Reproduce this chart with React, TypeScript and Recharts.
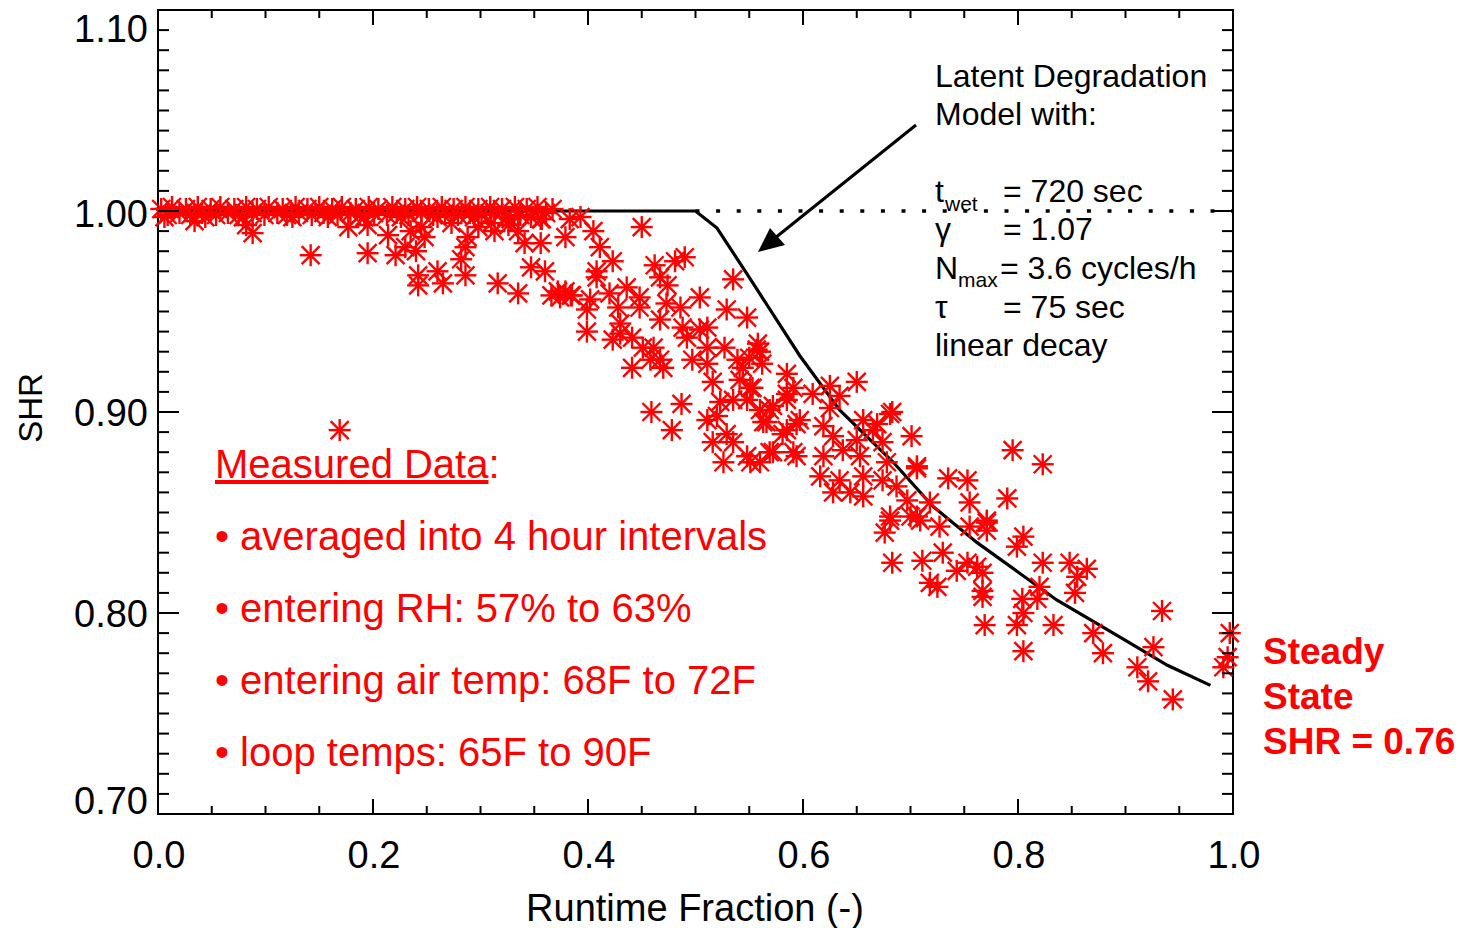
import { ComposedChart, Scatter, Line, XAxis, YAxis, ReferenceLine, ReferenceArea } from 'recharts'

const W = 1469
const H = 928
const PLOT = { left: 158, top: 10, right: 1233, bottom: 814 }
const FONT = '"Liberation Sans", Arial, Helvetica, sans-serif'
const RED = '#ff0000'

const X_TICKS = [0, 0.05, 0.1, 0.15, 0.2, 0.25, 0.3, 0.35, 0.4, 0.45, 0.5, 0.55, 0.6, 0.65, 0.7, 0.75, 0.8, 0.85, 0.9, 0.95, 1.0]
const Y_TICKS = Array.from({ length: 41 }, (_, i) => +(0.7 + i * 0.01).toFixed(2))
const Y_LABELS: Record<string, string> = { '1.1': '1.10', '1': '1.00', '0.9': '0.90', '0.8': '0.80', '0.7': '0.70' }
// IDL put the end labels a bit inside the box
const Y_LABEL_SHIFT: Record<string, number> = { '1.1': 20, '1': 4, '0.9': 2, '0.8': 2, '0.7': -12 }

// latent degradation model curve
const model: [number, number][] = [
  [0, 1.0], [0.5, 1.0], [0.52, 0.9915], [0.55, 0.967], [0.597, 0.928], [0.634, 0.901],
  [0.684, 0.875], [0.721, 0.853], [0.762, 0.835], [0.836, 0.8065], [0.898, 0.787],
  [0.939, 0.774], [0.979, 0.764],
]

// measured points sitting on SHR = 1.00
const flatRow: [number, number][] = [
  [0.003, 1.001], [0.009, 0.998], [0.013, 1.002], [0.02, 0.999], [0.026, 1.001], [0.03, 0.998],
  [0.037, 1.002], [0.041, 0.999], [0.049, 1.001], [0.054, 0.998], [0.058, 1.002], [0.065, 0.999],
  [0.071, 1.001], [0.075, 0.998], [0.082, 1.002], [0.088, 0.999], [0.092, 1.001], [0.099, 0.998],
  [0.103, 1.002], [0.111, 0.999], [0.116, 1.001], [0.12, 0.998], [0.128, 1.002], [0.131, 0.999],
  [0.139, 1.001], [0.143, 0.998], [0.15, 1.002], [0.154, 0.999], [0.162, 1.001], [0.167, 0.998],
  [0.171, 1.002], [0.179, 0.999], [0.184, 1.001], [0.188, 0.998], [0.196, 1.002], [0.201, 0.999],
  [0.205, 1.001], [0.213, 0.998], [0.218, 1.002], [0.222, 0.999], [0.23, 1.001], [0.233, 0.998],
  [0.241, 1.002], [0.245, 0.999], [0.252, 1.001], [0.256, 0.998], [0.264, 1.002], [0.267, 0.999],
  [0.275, 1.001], [0.279, 0.998], [0.286, 1.002], [0.29, 0.999], [0.298, 1.001], [0.301, 0.998],
  [0.309, 1.002], [0.313, 0.999], [0.32, 1.001], [0.324, 0.997], [0.332, 1.002], [0.337, 0.998],
  [0.343, 1.001], [0.347, 0.997], [0.353, 1.002], [0.361, 0.999], [0.367, 1.001],
  [0.006, 0.997], [0.044, 0.997], [0.079, 0.997], [0.125, 0.997], [0.158, 0.997], [0.192, 0.997],
  [0.226, 0.997], [0.26, 0.997], [0.294, 0.997], [0.328, 0.996], [0.357, 0.996],
]

// scatter below 1.00, runtime fraction < 0.4
const upperScatter: [number, number][] = [
  [0.034, 0.995], [0.082, 0.993], [0.088, 0.989], [0.142, 0.978], [0.169, 0.891], [0.177, 0.992],
  [0.195, 0.993], [0.195, 0.979], [0.214, 0.988], [0.221, 0.978], [0.23, 0.982], [0.235, 0.99],
  [0.24, 0.98], [0.242, 0.968], [0.242, 0.963], [0.245, 0.992], [0.248, 0.987], [0.26, 0.97],
  [0.265, 0.964], [0.273, 0.994], [0.282, 0.976], [0.286, 0.982], [0.286, 0.968], [0.288, 0.987],
  [0.298, 0.992], [0.31, 0.994], [0.313, 0.99], [0.316, 0.964], [0.326, 0.993], [0.335, 0.99],
  [0.335, 0.959], [0.341, 0.984], [0.347, 0.972], [0.356, 0.984], [0.356, 0.996], [0.36, 0.97],
  [0.366, 0.958], [0.372, 0.96], [0.374, 0.957], [0.379, 0.987], [0.379, 0.96], [0.383, 0.996],
  [0.384, 0.958], [0.393, 0.997], [0.385, 0.958],
]

// scatter 0.4 - 0.6
const middleScatter: [number, number][] = [
  [0.405, 0.99], [0.411, 0.982], [0.423, 0.975], [0.408, 0.97], [0.408, 0.967], [0.45, 0.992],
  [0.462, 0.973], [0.481, 0.975], [0.49, 0.977], [0.467, 0.967], [0.474, 0.963], [0.402, 0.956],
  [0.399, 0.951], [0.399, 0.94], [0.42, 0.959], [0.436, 0.962], [0.448, 0.957], [0.448, 0.952],
  [0.428, 0.952], [0.43, 0.944], [0.43, 0.939], [0.423, 0.936], [0.441, 0.937], [0.441, 0.922],
  [0.451, 0.932], [0.467, 0.946], [0.473, 0.954], [0.486, 0.952], [0.504, 0.957], [0.488, 0.942],
  [0.492, 0.937], [0.504, 0.941], [0.511, 0.942], [0.529, 0.951], [0.548, 0.947], [0.535, 0.966],
  [0.558, 0.934], [0.56, 0.93], [0.527, 0.932], [0.511, 0.932], [0.461, 0.932], [0.467, 0.926],
  [0.47, 0.922], [0.458, 0.926], [0.497, 0.926], [0.511, 0.924], [0.516, 0.915], [0.539, 0.926],
  [0.544, 0.922], [0.541, 0.916], [0.553, 0.912], [0.562, 0.924], [0.585, 0.919], [0.591, 0.912],
  [0.523, 0.905], [0.52, 0.898], [0.535, 0.906], [0.548, 0.906], [0.56, 0.901], [0.572, 0.903],
  [0.566, 0.895], [0.585, 0.906], [0.597, 0.896], [0.585, 0.891], [0.459, 0.9], [0.487, 0.904],
  [0.478, 0.891], [0.511, 0.896], [0.529, 0.889], [0.516, 0.885], [0.535, 0.885], [0.526, 0.875],
  [0.548, 0.878], [0.56, 0.875], [0.572, 0.88], [0.591, 0.88], [0.557, 0.931], [0.55, 0.927],
  [0.551, 0.912], [0.585, 0.909], [0.569, 0.901], [0.563, 0.895], [0.594, 0.894], [0.581, 0.889],
  [0.569, 0.88], [0.594, 0.878], [0.551, 0.875],
]

// scatter 0.6 - 1.0
const lowerScatter: [number, number][] = [
  [0.65, 0.915], [0.625, 0.913], [0.609, 0.909], [0.634, 0.908], [0.625, 0.902], [0.619, 0.893],
  [0.656, 0.896], [0.681, 0.899], [0.669, 0.894], [0.701, 0.888], [0.674, 0.885], [0.65, 0.886],
  [0.628, 0.888], [0.619, 0.878], [0.637, 0.881], [0.653, 0.878], [0.678, 0.875], [0.706, 0.873],
  [0.616, 0.868], [0.634, 0.866], [0.656, 0.868], [0.674, 0.866], [0.628, 0.86], [0.644, 0.86],
  [0.656, 0.858], [0.687, 0.863], [0.697, 0.856], [0.681, 0.848], [0.706, 0.848], [0.718, 0.855],
  [0.683, 0.9], [0.795, 0.881], [0.823, 0.874], [0.706, 0.872], [0.735, 0.867], [0.753, 0.866],
  [0.79, 0.857], [0.755, 0.855], [0.771, 0.846], [0.771, 0.841], [0.805, 0.838], [0.799, 0.833],
  [0.823, 0.825], [0.848, 0.825], [0.864, 0.822], [0.855, 0.818], [0.853, 0.81], [0.82, 0.813],
  [0.818, 0.807], [0.804, 0.807], [0.805, 0.8], [0.799, 0.794], [0.833, 0.794], [0.769, 0.794],
  [0.805, 0.781], [0.87, 0.79], [0.879, 0.78], [0.926, 0.783], [0.934, 0.801], [0.911, 0.773],
  [0.921, 0.766], [0.944, 0.757], [0.991, 0.773], [0.997, 0.79], [0.995, 0.778], [0.767, 0.808],
  [0.767, 0.811], [0.753, 0.825], [0.762, 0.823], [0.767, 0.82], [0.743, 0.821], [0.725, 0.813],
  [0.718, 0.815], [0.73, 0.83], [0.711, 0.826], [0.683, 0.825], [0.676, 0.84], [0.681, 0.846],
  [0.7, 0.848], [0.709, 0.846], [0.727, 0.843], [0.755, 0.843], [0.771, 0.845], [0.665, 0.891],
]

const toPts = (arr: [number, number][]) => arr.map(([x, y]) => ({ x, y }))
const measured = toPts([...flatRow, ...upperScatter, ...middleScatter, ...lowerScatter])
const modelPts = toPts(model)

const Asterisk = (props: any) => {
  const { cx, cy } = props
  if (cx == null || cy == null) return null
  return (
    <g stroke={RED} strokeWidth={2.4}>
      <line x1={cx} y1={cy - 11} x2={cx} y2={cy + 11} />
      <line x1={cx - 11} y1={cy} x2={cx + 11} y2={cy} />
      <line x1={cx - 9} y1={cy - 9} x2={cx + 9} y2={cy + 9} />
      <line x1={cx - 9} y1={cy + 9} x2={cx + 9} y2={cy - 9} />
    </g>
  )
}

const XTick = (props: any) => {
  const { x, y, payload } = props
  const v = payload.value
  const major = Math.abs(v * 5 - Math.round(v * 5)) < 1e-6
  const len = major ? 15 : 8
  return (
    <g>
      <line x1={x} y1={y} x2={x} y2={y - len} stroke="#000" strokeWidth={2} />
      <line x1={x} y1={PLOT.top} x2={x} y2={PLOT.top + len} stroke="#000" strokeWidth={2} />
      {major && (
        <text x={x + 1} y={y + 54} textAnchor="middle" fontSize={38} fontFamily={FONT} fill="#000">
          {v.toFixed(1)}
        </text>
      )}
    </g>
  )
}

const YTick = (props: any) => {
  const { x, y, payload } = props
  const key = String(payload.value)
  const label = Y_LABELS[key]
  const len = label ? 21 : 11
  return (
    <g>
      <line x1={x} y1={y} x2={x + len} y2={y} stroke="#000" strokeWidth={2} />
      <line x1={PLOT.right} y1={y} x2={PLOT.right - len} y2={y} stroke="#000" strokeWidth={2} />
      {label && (
        <text x={x - 10} y={y + Y_LABEL_SHIFT[key] + 12} textAnchor="end" fontSize={38} fontFamily={FONT} fill="#000">
          {label}
        </text>
      )}
    </g>
  )
}

const Annotations = () => (
  <svg width={W} height={H} style={{ position: 'absolute', left: 0, top: 0, pointerEvents: 'none' }}>
    <g fontFamily={FONT} fill="#000" fontSize={32}>
      <text x={935} y={87}>Latent Degradation</text>
      <text x={935} y={125}>Model with:</text>
      <text x={935} y={202}>t</text>
      <text x={945} y={211} fontSize={21}>wet</text>
      <text x={1003} y={202}>= 720 sec</text>
      <text x={935} y={240}>γ</text>
      <text x={1003} y={240}>= 1.07</text>
      <text x={935} y={279}>N</text>
      <text x={958} y={287} fontSize={21}>max</text>
      <text x={1000} y={279}>= 3.6 cycles/h</text>
      <text x={935} y={318}>τ</text>
      <text x={1003} y={318}>= 75 sec</text>
      <text x={935} y={356}>linear decay</text>
    </g>
    <line x1={916} y1={125} x2={775} y2={238} stroke="#000" strokeWidth={3} />
    <polygon points="758,252 770,228 785,245" fill="#000" />

    <g fontFamily={FONT} fill={RED} fontSize={40}>
      <text x={215} y={478}>
        <tspan style={{ textDecoration: 'underline' }}>Measured Data</tspan>:
      </text>
      <text x={215} y={550}>• averaged into 4 hour intervals</text>
      <text x={215} y={622}>• entering RH: 57% to 63%</text>
      <text x={215} y={694}>• entering air temp: 68F to 72F</text>
      <text x={215} y={766}>• loop temps: 65F to 90F</text>
    </g>

    <g fontFamily={FONT} fill={RED} fontSize={37} fontWeight="bold">
      <text x={1263} y={664}>Steady</text>
      <text x={1263} y={709}>State</text>
      <text x={1263} y={754}>SHR = 0.76</text>
    </g>

    <text x={695} y={921} textAnchor="middle" fontSize={38} fontFamily={FONT} fill="#000">
      Runtime Fraction (-)
    </text>
    <text transform="translate(42,408) rotate(-90)" textAnchor="middle" fontSize={33} fontFamily={FONT} fill="#000">
      SHR
    </text>
  </svg>
)

export default function App() {
  return (
    <div style={{ position: 'absolute', left: 0, top: 0, width: W, height: H, background: '#fff' }}>
      <ComposedChart
        width={W}
        height={H}
        margin={{ top: PLOT.top, right: W - PLOT.right, left: PLOT.left - 100, bottom: H - PLOT.bottom - 60 }}
      >
        <XAxis
          type="number"
          dataKey="x"
          domain={[0, 1]}
          ticks={X_TICKS}
          interval={0}
          height={60}
          tickSize={0}
          tickMargin={0}
          axisLine={false}
          tickLine={false}
          tick={XTick}
        />
        <YAxis
          type="number"
          dataKey="y"
          domain={[0.7, 1.1]}
          ticks={Y_TICKS}
          interval={0}
          width={100}
          tickSize={0}
          tickMargin={0}
          axisLine={false}
          tickLine={false}
          tick={YTick}
        />
        <ReferenceLine
          segment={[{ x: 0.5, y: 1.0 }, { x: 1.0, y: 1.0 }]}
          stroke="#000"
          strokeWidth={3.5}
          strokeDasharray="4 16.6"
        />
        <Scatter data={measured} dataKey="y" shape={Asterisk} isAnimationActive={false} />
        <Line
          data={modelPts}
          dataKey="y"
          type="linear"
          stroke="#000"
          strokeWidth={3.2}
          dot={false}
          activeDot={false}
          isAnimationActive={false}
        />
        <ReferenceArea x1={0} x2={1} y1={0.7} y2={1.1} fill="none" stroke="#000" strokeWidth={2} ifOverflow="visible" />
      </ComposedChart>
      <Annotations />
    </div>
  )
}
